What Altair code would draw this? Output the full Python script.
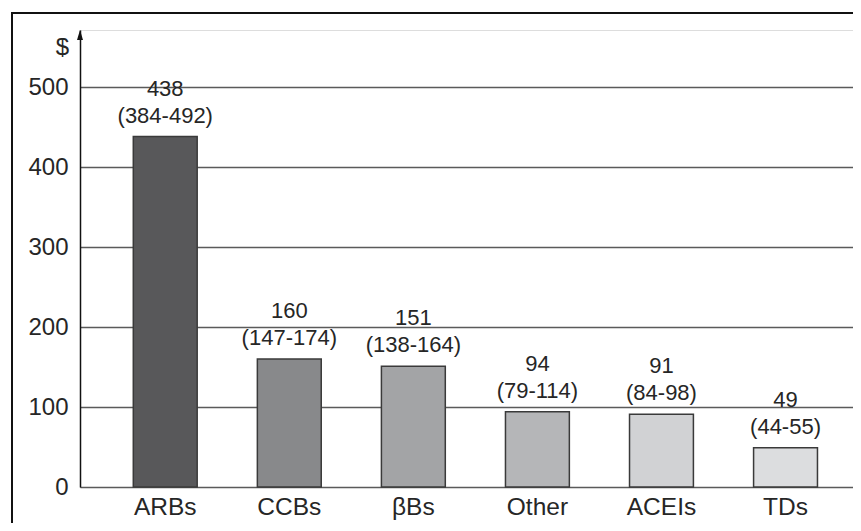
import altair as alt
import pandas as pd

categories = ["ARBs", "CCBs", "βBs", "Other", "ACEIs", "TDs"]
values = [438, 160, 151, 94, 91, 49]
lows = [384, 147, 138, 79, 84, 44]
highs = [492, 174, 164, 114, 98, 55]
colors = ["#58585a", "#88898b", "#a3a4a6", "#b5b6b8", "#d1d2d4", "#dcdddf"]
y_ticks = [0, 100, 200, 300, 400, 500]

df = pd.DataFrame({
    "cat": categories,
    "value": values,
    "vlabel": [str(v) for v in values],
    "rlabel": [f"({l}-{h})" for l, h in zip(lows, highs)],
})

FONT = "Liberation Sans"
TXT = "#262626"

x_enc = alt.X(
    "cat:N", sort=categories,
    scale=alt.Scale(paddingInner=0.485, paddingOuter=0.358, align=0.6),
    axis=alt.Axis(title=None, labelAngle=0, ticks=False, domain=False,
                  labelFontSize=24.5, labelPadding=8, labelColor=TXT, labelFont=FONT),
)
y_scale = alt.Scale(domain=[0, 571.25], nice=False)

base = alt.Chart(df)

bars = base.mark_bar(stroke="#3a3a3a", strokeWidth=1.5).encode(
    x=x_enc,
    y=alt.Y("value:Q", scale=y_scale,
            axis=alt.Axis(values=y_ticks, grid=True, gridColor="#5a5a5a", gridWidth=1.3,
                          domainColor="#111111", domainWidth=1.5, ticks=False,
                          labelFontSize=24, labelPadding=12, labelColor=TXT, labelFont=FONT,
                          title="$", titleAngle=0, titleX=-18, titleY=24,
                          titleAlign="center", titleBaseline="alphabetic",
                          titleFontSize=24, titleFontWeight="normal", titleColor=TXT,
                          titleFont=FONT)),
    color=alt.Color("cat:N", scale=alt.Scale(domain=categories, range=colors), legend=None),
)

rng = base.mark_text(baseline="alphabetic", dy=-14, fontSize=22, font=FONT, color=TXT).encode(
    x=alt.X("cat:N", sort=categories), y=alt.Y("value:Q", scale=y_scale), text="rlabel:N")
val = base.mark_text(baseline="alphabetic", dy=-41, fontSize=22, font=FONT, color=TXT).encode(
    x=alt.X("cat:N", sort=categories), y=alt.Y("value:Q", scale=y_scale), text="vlabel:N")

arrow = alt.Chart(pd.DataFrame({"a": [0]})).mark_point(
    shape="M0,-1L0.6,1L-0.6,1Z", filled=True, color="#111111", opacity=1, size=100
).encode(x=alt.value(0), y=alt.value(5))

frame_top = alt.Chart(pd.DataFrame({"a": [0]})).mark_rule(color="#111111", strokeWidth=2).encode(
    x=alt.value(-68), x2=alt.value(800), y=alt.value(-17))
frame_left = alt.Chart(pd.DataFrame({"a": [0]})).mark_rule(color="#111111", strokeWidth=2).encode(
    x=alt.value(-68), y=alt.value(-18), y2=alt.value(500))

chart = alt.layer(bars, rng, val, arrow, frame_top, frame_left).resolve_scale(
    x="shared", y="shared"
).properties(
    width=773, height=457,
    autosize=alt.AutoSizeParams(type="none"),
    padding={"left": 72, "top": 22, "right": 0, "bottom": 36},
).configure_view(stroke=None).configure(background="white")

chart.save("out.html", embed_options={"renderer": "svg", "actions": False})
